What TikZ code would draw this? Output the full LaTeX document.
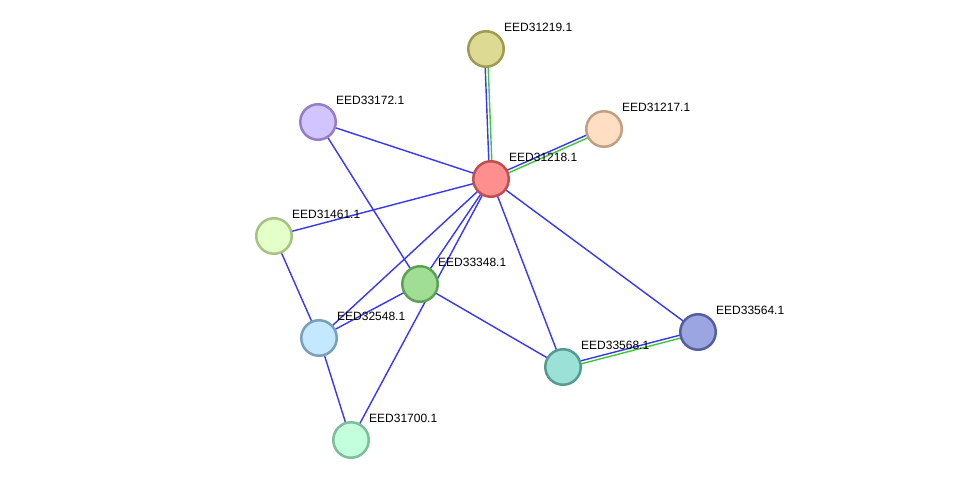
\documentclass[tikz,border=0pt]{standalone}
\usepackage{fontspec}
\setmainfont{Liberation Sans}
\usetikzlibrary{calc}
\definecolor{eblue}{RGB}{55,55,250}
\definecolor{egreen}{RGB}{60,200,60}
\tikzset{
  prot/.style={circle, inner sep=0pt, minimum size=35.5pt, line width=2.5pt},
  lbl/.style={anchor=west, inner sep=0pt, font=\fontsize{12}{14}\selectfont, text=black},
  bedge/.style={draw=eblue, line width=1.4pt},
  gedge/.style={draw=egreen, line width=1.4pt},
}
\begin{document}
\begin{tikzpicture}[x=1pt,y=-1pt]
\useasboundingbox[fill=white] (0,0) rectangle (976,486);
% node positions
\coordinate (p31219) at (486,49);
\coordinate (p31217) at (604,129);
\coordinate (p33172) at (318,122);
\coordinate (p31218) at (491,179);
\coordinate (p31461) at (274,236);
\coordinate (p33348) at (420,284);
\coordinate (p32548) at (319,338);
\coordinate (p33564) at (698,332);
\coordinate (p33568) at (563,367);
\coordinate (p31700) at (351,440);
% single edges
\draw[bedge] (p31218) -- (p33172);
\draw[bedge] (p31218) -- (p31461);
\draw[bedge] (p31218) -- (p33348);
\draw[bedge] (p31218) -- (p31700);
\draw[bedge] (p31218) -- (p32548);
\draw[bedge] (p31218) -- (p33568);
\draw[bedge] (p31218) -- (p33564);
\draw[bedge] (p33172) -- (p33348);
\draw[bedge] (p31461) -- (p32548);
\draw[bedge] (p33348) -- (p32548);
\draw[bedge] (p33348) -- (p33568);
\draw[bedge] (p32548) -- (p31700);
% double edges
\foreach \a/\b in {p31218/p31219, p31218/p31217, p33568/p33564}{
  \draw[bedge] ($(\a)!1.5pt!90:(\b)$) -- ($(\b)!1.5pt!-90:(\a)$);
  \draw[gedge] ($(\a)!1.5pt!-90:(\b)$) -- ($(\b)!1.5pt!90:(\a)$);
}
% nodes
\node[prot, fill={rgb,255:red,221;green,218;blue,148}, draw={rgb,255:red,160;green,155;blue,82}] (n31219) at (p31219) {};
\node[prot, fill={rgb,255:red,255;green,222;blue,196}, draw={rgb,255:red,192;green,160;blue,130}] (n31217) at (p31217) {};
\node[prot, fill={rgb,255:red,210;green,196;blue,255}, draw={rgb,255:red,150;green,126;blue,196}] (n33172) at (p33172) {};
\node[prot, fill={rgb,255:red,255;green,143;blue,143}, draw={rgb,255:red,190;green,80;blue,80}] (n31218) at (p31218) {};
\node[prot, fill={rgb,255:red,228;green,255;blue,200}, draw={rgb,255:red,165;green,195;blue,130}] (n31461) at (p31461) {};
\node[prot, fill={rgb,255:red,160;green,222;blue,150}, draw={rgb,255:red,95;green,160;blue,85}] (n33348) at (p33348) {};
\node[prot, fill={rgb,255:red,195;green,232;blue,255}, draw={rgb,255:red,120;green,160;blue,190}] (n32548) at (p32548) {};
\node[prot, fill={rgb,255:red,155;green,165;blue,225}, draw={rgb,255:red,85;green,95;blue,160}] (n33564) at (p33564) {};
\node[prot, fill={rgb,255:red,155;green,225;blue,215}, draw={rgb,255:red,85;green,155;blue,145}] (n33568) at (p33568) {};
\node[prot, fill={rgb,255:red,195;green,255;blue,220}, draw={rgb,255:red,125;green,190;blue,155}] (n31700) at (p31700) {};
% labels
\foreach \n in {31219,31217,33172,31218,31461,33348,32548,33564,33568,31700}{
  \node[lbl] (l\n) at ($(p\n)+(18,-21.5)$) {EED\n.1};
}
\end{tikzpicture}
\end{document}
